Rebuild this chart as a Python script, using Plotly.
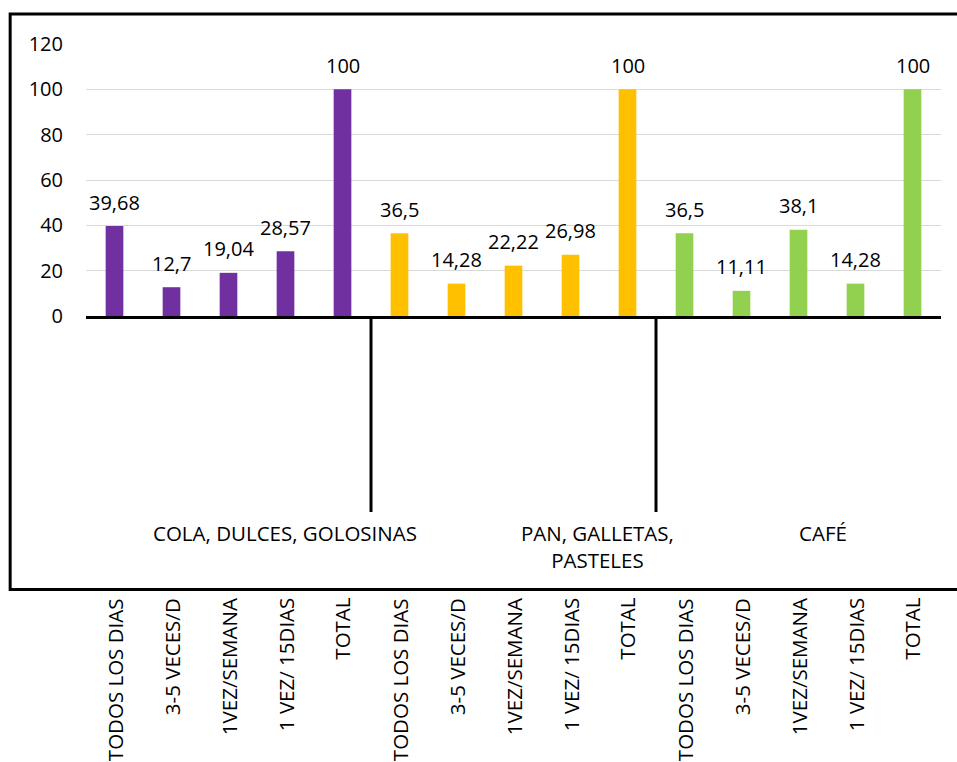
import plotly.graph_objects as go

# ---- data ----
categories = ["TODOS LOS DIAS", "3-5 VECES/D", "1VEZ/SEMANA", "1 VEZ/ 15DIAS", "TOTAL"]
groups = ["COLA, DULCES, GOLOSINAS", "PAN, GALLETAS,<br>PASTELES", "CAFÉ"]
cola = [39.68, 12.7, 19.04, 28.57, 100]
pan = [36.5, 14.28, 22.22, 26.98, 100]
cafe = [36.5, 11.11, 38.1, 14.28, 100]
y_ticks = [0, 20, 40, 60, 80, 100, 120]

series = [cola, pan, cafe]
colors = ["#7030A0", "#FFC000", "#92D050"]
FONT = "Open Sans"


def fmt(v):
    return ("%g" % v).replace(".", ",")


fig = go.Figure()
annotations = []
n = len(categories)
for g, (vals, col) in enumerate(zip(series, colors)):
    xs = [g * n + i for i in range(n)]
    fig.add_trace(go.Bar(x=xs, y=vals, marker=dict(color=col, line=dict(width=0)),
                         width=0.31, showlegend=False, hoverinfo="skip"))
    for x, v in zip(xs, vals):
        annotations.append(dict(x=x, y=v, xref="x", yref="y", text=fmt(v), showarrow=False,
                                yanchor="middle", yshift=24,
                                font=dict(family=FONT, size=20, color="#000000")))
    for x, c in zip(xs, categories):
        annotations.append(dict(x=x, y=-1.03, xref="x", yref="paper", text=c, showarrow=False,
                                textangle=-90, yanchor="top", xanchor="center",
                                font=dict(family=FONT, size=20.5, color="#000000")))

group_x = [0.2324, 0.5985, 0.8616]
group_y = [-0.798, -0.848, -0.798]
for gx, gy, gt in zip(group_x, group_y, groups):
    annotations.append(dict(x=gx, y=gy, xref="paper", yref="paper", text=gt, showarrow=False,
                            xanchor="center", yanchor="middle", align="center",
                            font=dict(family=FONT, size=20.5, color="#000000")))

shapes = [
    dict(type="rect", xref="paper", yref="paper", x0=-0.0887, x1=1.03, y0=-1.0055, y1=1.1103,
         line=dict(color="#000000", width=3), fillcolor="rgba(0,0,0,0)"),
]
for sx in [n - 0.5, 2 * n - 0.5]:
    shapes.append(dict(type="line", xref="x", yref="paper", x0=sx, x1=sx, y0=0, y1=-0.7206,
                       line=dict(color="#000000", width=3)))

fig.update_layout(
    width=957, height=762,
    margin=dict(l=86, r=16, t=44, b=446),
    paper_bgcolor="white", plot_bgcolor="white",
    bargap=0.69,
    xaxis=dict(range=[-0.5, 3 * n - 0.5], showticklabels=False, showgrid=False,
               zeroline=False, showline=True, linecolor="#000000", linewidth=2.5, ticks=""),
    yaxis=dict(range=[0, 120], tickvals=y_ticks, showgrid=True, gridcolor="#D9D9D9",
               gridwidth=1.3, zeroline=False, showline=False, ticks="",
               ticklabelstandoff=22,
               tickfont=dict(family=FONT, size=20, color="#000000")),
    annotations=annotations,
    shapes=shapes,
)

fig.write_html("out.html")
